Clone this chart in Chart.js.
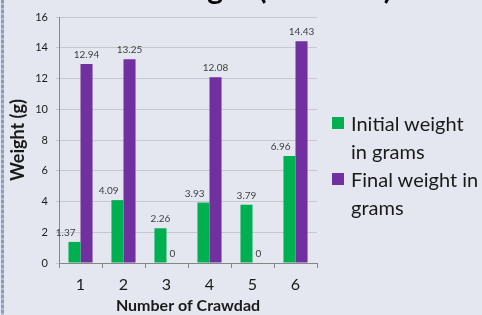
<!DOCTYPE html>
<html>
<head>
<meta charset="utf-8">
<script src="https://cdn.jsdelivr.net/npm/chart.js@4.4.1/dist/chart.umd.min.js"></script>
<style>
    html, body { margin: 0; padding: 0; }
    body { width: 482px; height: 315px; overflow: hidden; background: #e4e7f0; font-family: Lato, sans-serif; }
    .frame { position: relative; width: 482px; height: 315px; }
    .edge {
        position: absolute; left: 1px; top: 0; width: 3px; height: 315px;
        background: repeating-linear-gradient(to bottom, #8d9bbb 0 3px, #b4bdd3 3px 5px);
    }
    canvas { position: absolute; left: 0; top: 0; }
    .legend { position: absolute; left: 332px; top: 109px; margin: 0; padding: 0; list-style: none; }
    .legend li { position: relative; padding-left: 19px; width: 131px; font-size: 20px; line-height: 28px; color: #1a1a1a; }
    .legend .box { position: absolute; left: 0; top: 8px; width: 12px; height: 12px; }
</style>
</head>
<body>
<div class="frame">
    <div class="edge"></div>
    <canvas id="chart" width="482" height="315"></canvas>
    <ul class="legend" id="legend"></ul>
</div>
<script>
const categories = ['1', '2', '3', '4', '5', '6'];
const initialWeight = [1.37, 4.09, 2.26, 3.93, 3.79, 6.96];
const finalWeight = [12.94, 13.25, 0, 12.08, 0, 14.43];
const seriesNames = ['Initial weight in grams', 'Final weight in grams'];
const seriesColors = ['#00b050', '#7030a0'];
const chartTitle = 'Crawdad Weight (in Grams)';

// value labels above each bar; a label that would run into the taller
// neighbouring bar is nudged to the left of it, like Excel does
const valueLabels = {
    id: 'valueLabels',
    afterDatasetsDraw(chart) {
        const ctx = chart.ctx;
        ctx.save();
        ctx.font = '10px Lato, sans-serif';
        ctx.fillStyle = '#404040';
        ctx.textBaseline = 'alphabetic';
        const metas = chart.data.datasets.map((ds, i) => chart.getDatasetMeta(i));
        chart.data.datasets.forEach((ds, i) => {
            metas[i].data.forEach((bar, j) => {
                const text = String(ds.data[j]);
                const w = ctx.measureText(text).width;
                const y = bar.y - 6;
                let x = bar.x - w / 2;
                const next = metas[i + 1] && metas[i + 1].data[j];
                if (next && next.y < y - 8) {
                    const nextLeft = next.x - next.width / 2;
                    x = Math.min(x, nextLeft - 5 - w);
                }
                ctx.fillText(text, x, y);
            });
        });
        ctx.restore();
    }
};

// chart title, mostly cut off by the top edge
const clippedTitle = {
    id: 'clippedTitle',
    afterDraw(chart) {
        const ctx = chart.ctx;
        ctx.save();
        ctx.font = 'bold 30px Lato, sans-serif';
        ctx.fillStyle = '#000';
        ctx.textAlign = 'right';
        ctx.textBaseline = 'alphabetic';
        ctx.fillText(chartTitle, 392, -1);
        ctx.restore();
    }
};

const chart = new Chart(document.getElementById('chart'), {
    type: 'bar',
    data: {
        labels: categories,
        datasets: [
            { label: seriesNames[0], data: initialWeight, backgroundColor: seriesColors[0] },
            { label: seriesNames[1], data: finalWeight, backgroundColor: seriesColors[1] }
        ]
    },
    options: {
        responsive: false,
        animation: false,
        events: [],
        layout: { padding: { top: 17, right: 165, bottom: 0, left: 7 } },
        datasets: { bar: { categoryPercentage: 0.56, barPercentage: 1 } },
        plugins: { legend: { display: false }, tooltip: { enabled: false } },
        scales: {
            x: {
                afterFit: (scale) => { scale.height = 52; },
                grid: { offset: true, drawOnChartArea: false, tickLength: 5, color: '#868686' },
                border: { color: '#868686' },
                ticks: { padding: 7, color: '#1a1a1a', font: { family: 'Lato', size: 16 } },
                title: {
                    display: true, text: 'Number of Crawdad', color: '#1a1a1a',
                    font: { family: 'Lato', size: 16, weight: 'bold' }, padding: { top: 0, bottom: 0 }
                }
            },
            y: {
                min: 0, max: 16,
                afterFit: (scale) => { scale.width = 52; },
                grid: { color: '#c6c8ce', tickLength: 3 },
                border: { color: '#868686' },
                ticks: { stepSize: 2, padding: 8, color: '#1a1a1a', font: { family: 'Lato', size: 11 } },
                title: {
                    display: true, text: 'Weight (g)', color: '#1a1a1a',
                    font: { family: 'Lato', size: 18, weight: 'bold' }, padding: 0
                }
            }
        }
    },
    plugins: [valueLabels, clippedTitle]
});

// HTML legend on the right
document.getElementById('legend').innerHTML = chart.data.datasets.map(ds => `
    <li><span class="box" style="background:${ds.backgroundColor}"></span>${ds.label}</li>
`).join('');
</script>
</body>
</html>
